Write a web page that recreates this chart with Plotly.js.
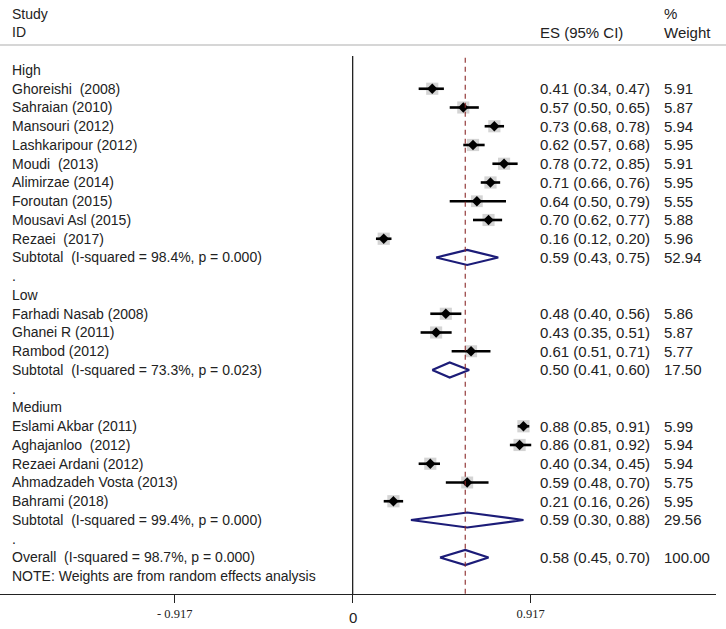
<!DOCTYPE html>
<html>
<head>
<meta charset="utf-8">
<script src="https://cdn.plot.ly/plotly-3.0.1.min.js"></script>
<style>html,body{margin:0;padding:0;background:#fff;}#chart{width:726px;height:629px;}</style>
</head>
<body>
<div id="chart"></div>
<script>
// ---- Data (one entry per table row, top to bottom) ----
const rowLabels = [
  'High',
  'Ghoreishi  (2008)', 'Sahraian (2010)', 'Mansouri (2012)', 'Lashkaripour (2012)',
  'Moudi  (2013)', 'Alimirzae (2014)', 'Foroutan (2015)', 'Mousavi Asl (2015)', 'Rezaei  (2017)',
  'Subtotal  (I-squared = 98.4%, p = 0.000)',
  '.',
  'Low',
  'Farhadi Nasab (2008)', 'Ghanei R (2011)', 'Rambod (2012)',
  'Subtotal  (I-squared = 73.3%, p = 0.023)',
  '.',
  'Medium',
  'Eslami Akbar (2011)', 'Aghajanloo  (2012)', 'Rezaei Ardani (2012)', 'Ahmadzadeh Vosta (2013)', 'Bahrami (2018)',
  'Subtotal  (I-squared = 99.4%, p = 0.000)',
  '.',
  'Overall  (I-squared = 98.7%, p = 0.000)',
  'NOTE: Weights are from random effects analysis'
];
const rowType = [
  'head',
  'study','study','study','study','study','study','study','study','study',
  'sub','blank','head',
  'study','study','study',
  'sub','blank','head',
  'study','study','study','study','study',
  'sub','blank','overall','note'
];
const rowES = [null, 0.41,0.57,0.73,0.62,0.78,0.71,0.64,0.70,0.16, 0.59, null,null, 0.48,0.43,0.61, 0.50, null,null, 0.88,0.86,0.40,0.59,0.21, 0.59, null, 0.58, null];
const rowLo = [null, 0.34,0.50,0.68,0.57,0.72,0.66,0.50,0.62,0.12, 0.43, null,null, 0.40,0.35,0.51, 0.41, null,null, 0.85,0.81,0.34,0.48,0.16, 0.30, null, 0.45, null];
const rowHi = [null, 0.47,0.65,0.78,0.68,0.85,0.76,0.79,0.77,0.20, 0.75, null,null, 0.56,0.51,0.71, 0.60, null,null, 0.91,0.92,0.45,0.70,0.26, 0.88, null, 0.70, null];
const rowWeight = [null, 5.91,5.87,5.94,5.95,5.91,5.95,5.55,5.88,5.96, 52.94, null,null, 5.86,5.87,5.77, 17.50, null,null, 5.99,5.94,5.94,5.75,5.95, 29.56, null, 100.00, null];
const axisTickVals = [-0.917, 0, 0.917];
const axisTickText = ['- 0.917', '', '0.917'];
const headerLeft = ['Study', 'ID'];
const headerES = 'ES (95% CI)';
const headerWeight = ['%', 'Weight'];

// ---- Build traces ----
const sy = [], sx = [], sLo = [], sHi = [], sW = [];
rowType.forEach((t, i) => {
  if (t === 'study') {
    sy.push(i); sx.push(rowES[i]);
    sLo.push(rowES[i] - rowLo[i]); sHi.push(rowHi[i] - rowES[i]);
    sW.push(rowWeight[i]);
  }
});

const traces = [];
// weight boxes
traces.push({
  type: 'scatter', mode: 'markers', x: sx, y: sy, hoverinfo: 'skip',
  marker: { symbol: 'square', size: sW.map(w => Math.sqrt(w) * 5.0), color: '#c2c2c2', line: { width: 0 } }
});
// CI lines + point estimates
traces.push({
  type: 'scatter', mode: 'markers', x: sx, y: sy,
  error_x: { type: 'data', symmetric: false, array: sHi, arrayminus: sLo, width: 0, thickness: 2.6, color: '#000' },
  marker: { symbol: 'diamond', size: 8, color: '#000' }
});
// diamonds
const dh = 0.4;
rowType.forEach((t, i) => {
  if (t === 'sub' || t === 'overall') {
    traces.push({
      type: 'scatter', mode: 'lines', hoverinfo: 'skip',
      x: [rowLo[i], rowES[i], rowHi[i], rowES[i], rowLo[i]],
      y: [i, i - dh, i, i + dh, i],
      line: { color: '#1c1c78', width: 2.2 }
    });
  }
});

// ---- Text ----
const fontLeft = { family: 'Liberation Sans, Arial, sans-serif', size: 14, color: '#222' };
const fontRight = { family: 'Liberation Sans, Arial, sans-serif', size: 15, color: '#222' };
const fmt = v => v.toFixed(2);
const keepSpaces = s => s.replace(/  /g, ' \u00a0');
const colStudy = 10 / 716, colES = 538 / 716, colW = 662 / 716;
const annotations = [];
function addText(x, y, text, f) {
  annotations.push({ xref: 'paper', yref: 'y', x: x, y: y, text: text, showarrow: false,
    xanchor: 'left', yanchor: 'middle', font: f });
}
addText(colStudy, -3, headerLeft[0], fontLeft);
addText(colStudy, -2, headerLeft[1], fontLeft);
addText(colES, -2, headerES, fontRight);
addText(colW, -3, headerWeight[0], fontRight);
addText(colW, -2, headerWeight[1], fontRight);
rowLabels.forEach((lab, i) => {
  addText(colStudy, i, keepSpaces(lab), fontLeft);
  if (rowES[i] !== null) {
    addText(colES, i, fmt(rowES[i]) + ' (' + fmt(rowLo[i]) + ', ' + fmt(rowHi[i]) + ')', fontRight);
    addText(colW, i, fmt(rowWeight[i]), fontRight);
  }
});
// zero label
annotations.push({ xref: 'x', yref: 'paper', x: 0, y: -0.039, text: '0', showarrow: false,
  xanchor: 'center', yanchor: 'middle', font: { family: 'Liberation Sans, Arial, sans-serif', size: 15, color: '#222' } });

const overallIdx = rowType.indexOf('overall');
const shapes = [
  // header rule
  { type: 'line', xref: 'paper', yref: 'y', x0: 0, x1: 726 / 716, y0: -1.333, y1: -1.333,
    line: { color: '#c8c8c8', width: 1.5 } },
  // null line
  { type: 'line', xref: 'x', yref: 'y', x0: 0, x1: 0, y0: -0.75, y1: 27.95,
    line: { color: '#222', width: 1.3 } },
  // overall effect line
  { type: 'line', xref: 'x', yref: 'y', x0: rowES[overallIdx], x1: rowES[overallIdx], y0: -0.65, y1: 27.95,
    line: { color: '#8b2a2a', width: 1.1, dash: '5px,4px' } }
];

const layout = {
  width: 726, height: 629,
  margin: { l: 0, r: 10, t: 0, b: 35 },
  paper_bgcolor: '#fff', plot_bgcolor: '#fff',
  showlegend: false,
  xaxis: {
    range: [-1.817, 1.872], showgrid: false, zeroline: false,
    showline: true, linecolor: '#222', linewidth: 1.2,
    ticks: 'outside', ticklen: 8, tickwidth: 1.2, tickcolor: '#222',
    tickvals: axisTickVals, ticktext: axisTickText,
    tickfont: { family: 'Liberation Serif, Times New Roman, serif', size: 12.5, color: '#222' },
    fixedrange: true
  },
  yaxis: { range: [27.947, -3.733], visible: false, fixedrange: true },
  shapes: shapes,
  annotations: annotations
};

Plotly.newPlot('chart', traces, layout, { displayModeBar: false, staticPlot: true });
</script>
</body>
</html>
